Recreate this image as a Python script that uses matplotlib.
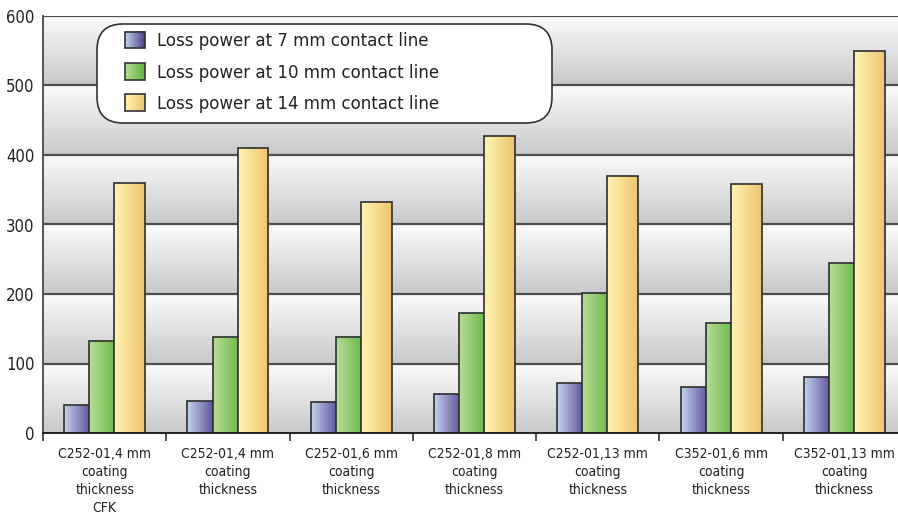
import numpy as np
import matplotlib.pyplot as plt
from matplotlib.image import BboxImage
from matplotlib.colors import LinearSegmentedColormap
from matplotlib.patches import FancyBboxPatch
from matplotlib.transforms import IdentityTransform

plt.rcParams['font.family'] = ['DejaVu Sans']
plt.rcParams['font.stretch'] = 'condensed'

categories = ["C252-01,4 mm\ncoating\nthickness\nCFK",
              "C252-01,4 mm\ncoating\nthickness",
              "C252-01,6 mm\ncoating\nthickness",
              "C252-01,8 mm\ncoating\nthickness",
              "C252-01,13 mm\ncoating\nthickness",
              "C352-01,6 mm\ncoating\nthickness",
              "C352-01,13 mm\ncoating\nthickness"]
loss_7mm = [40, 46, 44, 56, 72, 66, 80]
loss_10mm = [132, 138, 138, 172, 201, 158, 245]
loss_14mm = [360, 410, 333, 428, 370, 358, 550]
series_names = ["Loss power at 7 mm contact line",
                "Loss power at 10 mm contact line",
                "Loss power at 14 mm contact line"]
yticks = [0, 100, 200, 300, 400, 500, 600]

grads = [("#c4d4ee", "#4b3c8e"), ("#b8dc98", "#5cb43a"), ("#fff4b4", "#eec46e")]
mids = ["#8a88c4", "#8cc86a", "#f8dc94"]

fig = plt.figure(figsize=(8.98, 5.16), dpi=100)
ax = fig.add_axes([43 / 898, 83 / 516, 863 / 898, 417 / 516])

x = np.arange(len(categories))
ax.set_xlim(-0.5, len(categories) - 0.5)
ax.set_ylim(0, 600)

# banded gradient background
band = np.linspace(1, 0, 100).reshape(-1, 1)
bg = LinearSegmentedColormap.from_list("bg", ["#c8c9cb", "#fbfbfb"])
for lo in yticks[:-1]:
    ax.imshow(band, cmap=bg, aspect='auto', extent=(-0.5, len(categories) - 0.5, lo, lo + 100),
              zorder=0, interpolation='bicubic')
for t in yticks[1:]:
    ax.axhline(t, color="#4e4e4e", lw=1.6, zorder=1)

width = 0.25
offset = 0.203
hgrad = np.linspace(0, 1, 100).reshape(1, -1)
series = [loss_7mm, loss_10mm, loss_14mm]
for k, vals in enumerate(series):
    cm = LinearSegmentedColormap.from_list("g%d" % k, grads[k])
    bars = ax.bar(x + (k - 1) * offset, vals, width, facecolor="none",
                  edgecolor="#2e2e2e", lw=1.2, zorder=3 + 2 * k + 0.5)
    for b in bars:
        im = ax.imshow(hgrad, cmap=cm, aspect='auto', interpolation='bicubic',
                       extent=(b.get_x(), b.get_x() + b.get_width(), 0, b.get_height()),
                       zorder=3 + 2 * k)
        im.set_clip_path(b)

ax.set_xticks(np.arange(-0.5, len(categories) + 0.5, 1))
ax.set_xticklabels([])
ax.set_xticks(x, minor=True)
ax.set_xticklabels(categories, minor=True, fontsize=10, color="#222222", linespacing=1.38)
ax.tick_params(axis='x', which='major', length=6, width=1.2, direction='out', color="#333333")
ax.tick_params(axis='x', which='minor', length=0, pad=10)
ax.set_yticks(yticks)
ax.set_yticklabels([str(t) for t in yticks], fontsize=12, color="#222222")
ax.tick_params(axis='y', length=0, pad=6)

for s in ['top', 'right']:
    ax.spines[s].set_visible(False)
ax.spines['left'].set_color("#555555")
ax.spines['left'].set_linewidth(1.4)
ax.spines['bottom'].set_color("#222222")
ax.spines['bottom'].set_linewidth(1.4)
ax.spines['left'].set_zorder(10)
ax.spines['bottom'].set_zorder(10)

# rounded legend frame (pixel coords)
box = FancyBboxPatch((97, 516 - 123), 455, 99, boxstyle="round,pad=0,rounding_size=26",
                     transform=IdentityTransform(), facecolor="white", edgecolor="#333333",
                     lw=1.2, zorder=19)
ax.add_artist(box)

handles = [plt.Rectangle((0, 0), 1, 1, facecolor=mids[k], edgecolor="#333333", lw=1.2)
           for k in range(3)]
leg = ax.legend(handles, series_names, loc='upper left', bbox_to_anchor=(0.095, 0.962),
                fontsize=13.3, frameon=False, handlelength=1.08, handleheight=1.0,
                handletextpad=0.65, labelspacing=0.68, borderpad=0, borderaxespad=0)
for t in leg.get_texts():
    t.set_color("#222222")
leg.set_zorder(20)

fig.canvas.draw()
for k, p in enumerate(leg.get_patches()):
    cm = LinearSegmentedColormap.from_list("l%d" % k, grads[k])
    bb = p.get_window_extent()
    bi = BboxImage(bb, cmap=cm, interpolation='bicubic', zorder=19.5)
    bi.set_data(hgrad)
    ax.add_artist(bi)
    p.set_facecolor("none")

fig.savefig("out.png", dpi=100)
